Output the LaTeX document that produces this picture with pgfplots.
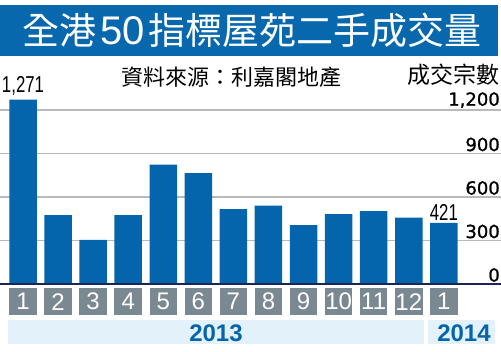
\documentclass[border=0pt]{standalone}
\usepackage{fontspec}
\usepackage{pgfplots}
\pgfplotsset{compat=1.18}
\setmainfont{Liberation Sans}
\newfontfamily\cjk{Noto Sans CJK TC}
\newfontfamily\narrowf[FakeStretch=0.73]{Liberation Sans}
\newfontfamily\widef[FakeBold=1.2]{DejaVu Sans}
\definecolor{barblue}{RGB}{5,101,172}
\definecolor{titleblue}{RGB}{8,104,174}
\definecolor{boxgray}{RGB}{122,136,146}
\definecolor{bandblue}{RGB}{226,241,250}
\definecolor{navy}{RGB}{28,36,88}
\definecolor{gridgray}{RGB}{185,185,185}
\begin{document}
\begin{tikzpicture}[x=1pt,y=1pt]
\path[use as bounding box] (0,0) rectangle (501,352);
\fill[titleblue] (0,296) rectangle (498,347);
\node[text=white, font=\cjk\fontsize{37}{40}\selectfont, inner sep=0] at (252,322) {全港\hspace{4pt}{\fontspec{Liberation Sans}\fontsize{40}{40}\selectfont 50}\hspace{4pt}指標屋苑二手成交量};
\node[font=\cjk\fontsize{22}{24}\selectfont, inner sep=0] at (231.7,274.5) {資料來源：利嘉閣地產};
\node[font=\cjk\fontsize{23}{24}\selectfont, inner sep=0, anchor=east] at (500,277.3) {成交宗數};
\fill[bandblue] (8,8) rectangle (424,32);
\fill[bandblue] (428,8) rectangle (495,32);
\node[font=\bfseries\fontsize{24}{24}\selectfont, text=barblue, inner sep=0] at (216,19) {2013};
\node[font=\bfseries\fontsize{24}{24}\selectfont, text=barblue, inner sep=0] at (464,19) {2014};
\begin{axis}[
  at={(0pt,68pt)}, anchor=south west, scale only axis,
  width=501pt, height=174pt,
  xmin=-0.656, xmax=13.63, ymin=0, ymax=1200,
  ybar, bar width=27.5pt,
  axis line style={draw=none}, major tick length=0pt,
  ytick={0,300,600,900,1200}, yticklabels={0,300,600,900,{1,200}},
  yticklabel pos=right,
  yticklabel style={anchor=south east, inner sep=0pt, xshift=-1pt, yshift=2pt, text=black, font=\widef\fontsize{18}{18}\selectfont},
  ymajorgrids, grid style={gridgray, line width=1.2pt},
  xtick={0,...,12}, xticklabels={1,2,3,4,5,6,7,8,9,10,11,12,1},
  xticklabel style={fill=boxgray, text=white, minimum width=27.5pt, minimum height=27pt, inner sep=0pt, anchor=north, yshift=-4pt, font=\fontsize{24}{24}\selectfont},
  clip=false,
]
\addplot[fill=barblue, draw=none] coordinates {(0,1271) (1,475) (2,305) (3,475) (4,824) (5,764) (6,517) (7,540) (8,406) (9,482) (10,503) (11,457) (12,421)};
\draw[navy, line width=2pt] (axis cs:-0.656,0) -- (axis cs:13.63,0);
\node[font=\narrowf\fontsize{23}{23}\selectfont, inner sep=0, anchor=base, yshift=7pt] at (axis cs:0,1271) {1,271};
\node[font=\narrowf\fontsize{23}{23}\selectfont, inner sep=0, anchor=base, yshift=2pt] at (axis cs:12,421) {421};
\end{axis}
\end{tikzpicture}
\end{document}
